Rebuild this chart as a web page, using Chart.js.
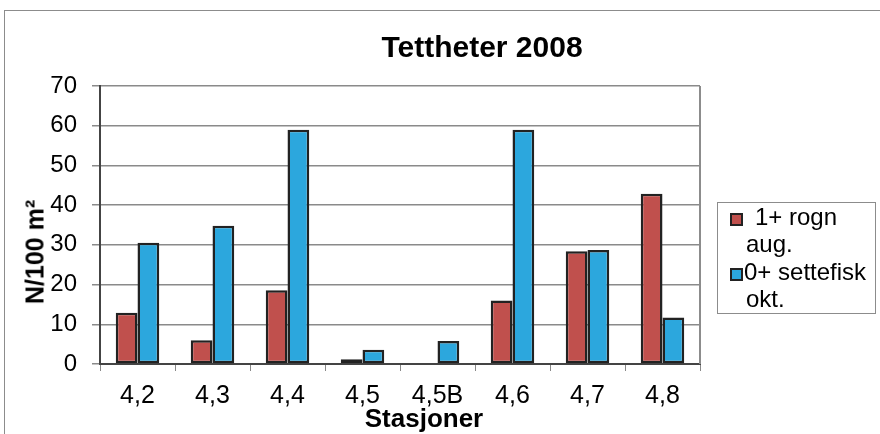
<!DOCTYPE html>
<html>
<head>
<meta charset="utf-8">
<script src="https://cdn.jsdelivr.net/npm/chart.js@4.4.1/dist/chart.umd.min.js"></script>
<style>
  html, body { margin: 0; padding: 0; background: #fff; }
  #wrap { position: relative; width: 880px; height: 434px; overflow: hidden; font-family: "Liberation Sans", Arial, sans-serif; }
  #frame { position: absolute; left: 4px; top: 10px; width: 900px; height: 460px; border: 1px solid #8c8c8c; box-sizing: border-box; }
  canvas { position: absolute; left: 0; top: 0; }
  .t { position: absolute; white-space: nowrap; color: #000; }
  #title { left: 482px; top: 47px; transform: translate(-50%, -50%); font-weight: bold; font-size: 30px; }
  #ytitle { left: 35px; top: 252px; transform: translate(-50%, -50%) rotate(-90deg); font-weight: bold; font-size: 25px; }
  #xtitle { left: 424px; top: 418px; transform: translate(-50%, -50%); font-weight: bold; font-size: 26px; }
  #legend { position: absolute; left: 717px; top: 202px; width: 159px; height: 112px; border: 1px solid #8c8c8c; box-sizing: border-box; font-size: 24px; line-height: 27px; }
  .sw { position: absolute; width: 9px; height: 9px; border: 2px solid #222; }
  .lt { position: absolute; white-space: nowrap; }
</style>
</head>
<body>
<div id="wrap">
  <div id="frame"></div>
  <canvas id="c" width="880" height="434"></canvas>
  <div class="t" id="title">Tettheter 2008</div>
  <div class="t" id="ytitle">N/100 m²</div>
  <div class="t" id="xtitle">Stasjoner</div>
  <div id="legend"></div>
</div>
<script>
// Stations and densities (individuals per 100 m²)
const stations = ['4,2', '4,3', '4,4', '4,5', '4,5B', '4,6', '4,7', '4,8'];
const seriesNames = [['1+ rogn', 'aug.'], ['0+ settefisk', 'okt.']];
const rognAug = [12.9, 6.0, 18.6, 1.2, 0, 16.0, 28.4, 42.9];
const settefiskOkt = [30.5, 34.8, 59.0, 3.6, 5.8, 59.0, 28.7, 11.7];
const yTicks = [0, 10, 20, 30, 40, 50, 60, 70];

const colors = ['#C0504D', '#2CA7DD'];

// Legend with two-line labels
const legend = document.getElementById('legend');
const legendRows = [
  { sw: 10, text: 37, top: 0, indent: 28 },
  { sw: 65, text: 26, top: 55, indent: 28 }
];
seriesNames.forEach((lines, i) => {
  const r = legendRows[i];
  const sw = document.createElement('div');
  sw.className = 'sw';
  sw.style.left = '12px';
  sw.style.top = r.sw + 'px';
  sw.style.background = colors[i];
  legend.appendChild(sw);
  const l1 = document.createElement('div');
  l1.className = 'lt';
  l1.style.left = r.text + 'px';
  l1.style.top = r.top + 'px';
  l1.textContent = lines[0];
  legend.appendChild(l1);
  const l2 = document.createElement('div');
  l2.className = 'lt';
  l2.style.left = r.indent + 'px';
  l2.style.top = (r.top + 27) + 'px';
  l2.textContent = lines[1];
  legend.appendChild(l2);
});

// Right edge of the plot frame
const frameRight = {
  id: 'frameRight',
  afterDatasetsDraw(chart) {
    const { ctx, chartArea: a } = chart;
    ctx.save();
    ctx.strokeStyle = '#8c8c8c';
    ctx.lineWidth = 2;
    ctx.beginPath();
    ctx.moveTo(a.right, a.top);
    ctx.lineTo(a.right, a.bottom);
    ctx.stroke();
    ctx.restore();
  }
};

new Chart(document.getElementById('c'), {
  type: 'bar',
  data: {
    labels: stations,
    datasets: [
      { label: seriesNames[0].join(' '), data: rognAug, backgroundColor: colors[0] },
      { label: seriesNames[1].join(' '), data: settefiskOkt, backgroundColor: colors[1] }
    ]
  },
  options: {
    responsive: false,
    animation: false,
    devicePixelRatio: 1,
    layout: { padding: { left: 0, right: 180, top: 86, bottom: 0 } },
    datasets: {
      bar: {
        borderColor: '#222',
        borderWidth: 2.5,
        borderSkipped: false,
        categoryPercentage: 0.58,
        barPercentage: 1.0
      }
    },
    plugins: {
      legend: { display: false },
      title: { display: false },
      tooltip: { enabled: false }
    },
    scales: {
      x: {
        afterFit(s) { s.height = 70; },
        grid: { drawOnChartArea: false, drawTicks: true, tickLength: 7, color: '#888', offset: true },
        border: { color: '#444', width: 2 },
        ticks: { color: '#000', font: { family: 'Liberation Sans', size: 25 }, padding: 10, maxRotation: 0 }
      },
      y: {
        min: 0,
        max: 70,
        afterFit(s) { s.width = 100; },
        afterBuildTicks(s) { s.ticks = yTicks.map(v => ({ value: v })); },
        grid: { color: '#8a8a8a', lineWidth: 1.5, tickLength: 8, drawTicks: true },
        border: { color: '#444', width: 2 },
        ticks: { color: '#000', font: { family: 'Liberation Sans', size: 24 }, padding: 15 }
      }
    }
  },
  plugins: [frameRight]
});
</script>
</body>
</html>
